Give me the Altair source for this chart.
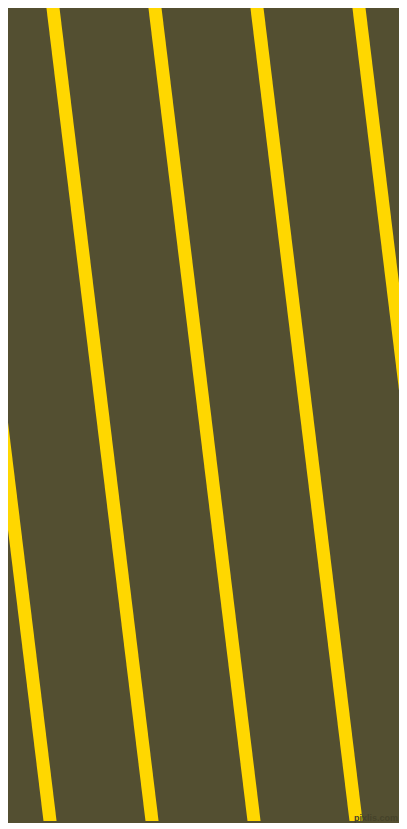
import altair as alt
import pandas as pd

# Reference-pixel frame of the pattern (407 x 829); the visible part of the
# page inside the 8px margin is shown at 1:1
visible_x = [8, 399]
visible_y = [8, 821]
frame_h = [0, 829]

# Stripe centre positions where each stripe meets the top and bottom edges
stripe_top_x = [-50, 52, 154, 256, 358]
stripe_bottom_x = [51, 153, 255, 357, 459]

bg_color = "#534F31"
stripe_color = "#FFD700"

W = visible_x[1] - visible_x[0]
H = visible_y[1] - visible_y[0]

df = pd.DataFrame({
    "x": stripe_top_x,
    "x2": stripe_bottom_x,
    "y": [frame_h[0]] * len(stripe_top_x),
    "y2": [frame_h[1]] * len(stripe_top_x),
})

xs = alt.Scale(domain=visible_x, nice=False, zero=False, padding=0)
ys = alt.Scale(domain=[visible_y[1], visible_y[0]], nice=False, zero=False, padding=0)

stripes = alt.Chart(df).mark_rule(
    color=stripe_color, strokeWidth=13, clip=True, strokeCap="butt"
).encode(
    x=alt.X("x:Q", scale=xs, axis=None),
    x2="x2:Q",
    y=alt.Y("y:Q", scale=ys, axis=None),
    y2="y2:Q",
)

wm = pd.DataFrame({"t": ["pixlis.com"], "x": [398], "y": [818]})
mark_text = alt.Chart(wm).mark_text(
    font="Liberation Sans", fontSize=9, fontWeight="bold", color="#46432A",
    baseline="middle", align="right"
).encode(
    x=alt.X("x:Q", scale=xs, axis=None),
    y=alt.Y("y:Q", scale=ys, axis=None),
    text="t:N",
)

chart = alt.layer(stripes, mark_text).properties(
    width=W, height=H, background=bg_color, padding=0
).configure_view(stroke=None, fill=bg_color)

chart.save("out.html", embed_options={"renderer": "svg", "actions": False})
